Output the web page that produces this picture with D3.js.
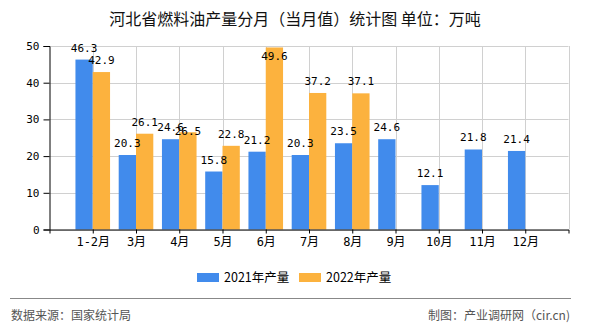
<!DOCTYPE html>
<html>
<head>
<meta charset="utf-8">
<script src="https://cdn.jsdelivr.net/npm/d3@7"></script>
<style>
  html, body { margin: 0; padding: 0; background: #fff; }
  svg { display: block; }
</style>
</head>
<body>
<svg id="chart" width="590" height="330"></svg>
<script>
const categories = ["1-2月", "3月", "4月", "5月", "6月", "7月", "8月", "9月", "10月", "11月", "12月"];
const values2021 = [46.3, 20.3, 24.6, 15.8, 21.2, 20.3, 23.5, 24.6, 12.1, 21.8, 21.4];
const values2022 = [42.9, 26.1, 26.5, 22.8, 49.6, 37.2, 37.1, null, null, null, null];
const seriesNames = ["2021年产量", "2022年产量"];
const yTicks = [0, 10, 20, 30, 40, 50];
const titleText = "河北省燃料油产量分月（当月值）统计图 单位：万吨";
const sourceText = "数据来源：国家统计局";
const creditText = "制图：产业调研网（cir.cn)";

const colors = ["#418BEC", "#FCB23E"];
const svg = d3.select("#chart");
const L = 49.5, R = 568.5, T = 46, B = 229.5;
const cjk = "'Noto Sans CJK SC', sans-serif";
const mono = "'DejaVu Sans Mono', 'Noto Sans CJK SC', monospace";

const x = d3.scalePoint().domain(categories).range([L, R]).padding(1);
const step = x.step();
const bw = step * 0.4;
const y = d3.scaleLinear().domain([0, 50]).range([B, T]);

// title
svg.append("text").attr("x", 295).attr("y", 25).attr("text-anchor", "middle")
  .attr("font-family", cjk).attr("font-size", 16).attr("fill", "#111").text(titleText);

// horizontal grid
svg.append("g").selectAll("line").data(yTicks).join("line")
  .attr("x1", L).attr("x2", R).attr("y1", d => Math.round(y(d)) + 0.5).attr("y2", d => Math.round(y(d)) + 0.5)
  .attr("stroke", "#d0d0d0").attr("stroke-width", 1);

// vertical grid (category positions plus the right edge)
const vx = categories.map(c => x(c)).concat([R]);
svg.append("g").selectAll("line").data(vx).join("line")
  .attr("x1", d => Math.round(d) + 0.5).attr("x2", d => Math.round(d) + 0.5).attr("y1", T).attr("y2", B)
  .attr("stroke", "#d0d0d0").attr("stroke-width", 1);

// bars
const series = [values2021, values2022];
series.forEach((vals, si) => {
  const data = categories.map((c, i) => ({ c, v: vals[i] })).filter(d => d.v != null);
  svg.append("g").selectAll("rect").data(data).join("rect")
    .attr("x", d => x(d.c) - bw + si * bw).attr("width", bw)
    .attr("y", d => y(d.v)).attr("height", d => B - y(d.v))
    .attr("fill", colors[si]);
});

// value labels with simple layout: keep near plot, avoid sibling collision
const labels = [];
categories.forEach((c, i) => {
  let prevY = null;
  series.forEach((vals, si) => {
    const v = vals[i];
    if (v == null) return;
    let ly = y(v) - 8;
    if (ly < T - 2) ly = T + 14;            // would overflow the top: tuck inside the bar
    if (prevY != null && Math.abs(ly - prevY) < 10) ly = prevY + 4; // collision with sibling
    labels.push({ x: x(c) - bw / 2 + si * bw, y: ly, t: v.toFixed(1) });
    prevY = ly;
  });
});
svg.append("g").selectAll("text").data(labels).join("text")
  .attr("x", d => d.x).attr("y", d => d.y)
  .attr("text-anchor", "middle").attr("font-family", mono).attr("font-size", 11)
  .attr("fill", "#000").text(d => d.t);

// y axis
const yAxis = d3.axisLeft(y).tickValues(yTicks).tickSize(6).tickPadding(4);
const gy = svg.append("g").attr("transform", `translate(${L},0)`).call(yAxis);
gy.select(".domain").attr("stroke", "#000");
gy.selectAll(".tick line").attr("stroke", "#000");
gy.selectAll(".tick text").attr("font-family", mono).attr("font-size", 11).attr("fill", "#000");

// x axis
const gx = svg.append("g").attr("transform", `translate(0,${B})`).call(
  d3.axisBottom(x).tickSize(4).tickPadding(4).tickSizeOuter(4));
gx.select(".domain").attr("stroke", "#000");
gx.selectAll(".tick line").attr("stroke", "#000");
gx.selectAll(".tick text").attr("font-family", mono).attr("font-size", 12).attr("fill", "#000");

// legend
const lg = svg.append("g");
const lx = [197, 299];
seriesNames.forEach((n, i) => {
  lg.append("rect").attr("x", lx[i]).attr("y", 273).attr("width", 22).attr("height", 9).attr("fill", colors[i]);
  lg.append("text").attr("x", lx[i] + 27).attr("y", 281.5).attr("font-family", cjk)
    .attr("font-size", 12.5).attr("fill", "#000").text(n);
});

// footer
svg.append("line").attr("x1", 10).attr("x2", 571).attr("y1", 298.5).attr("y2", 298.5)
  .attr("stroke", "#888").attr("stroke-width", 1.2);
svg.append("text").attr("x", 11).attr("y", 319.5).attr("font-family", cjk).attr("font-size", 12)
  .attr("fill", "#555").text(sourceText);
svg.append("text").attr("x", 570).attr("y", 319.5).attr("text-anchor", "end").attr("font-family", cjk)
  .attr("font-size", 12).attr("fill", "#555").text(creditText);
</script>
</body>
</html>
